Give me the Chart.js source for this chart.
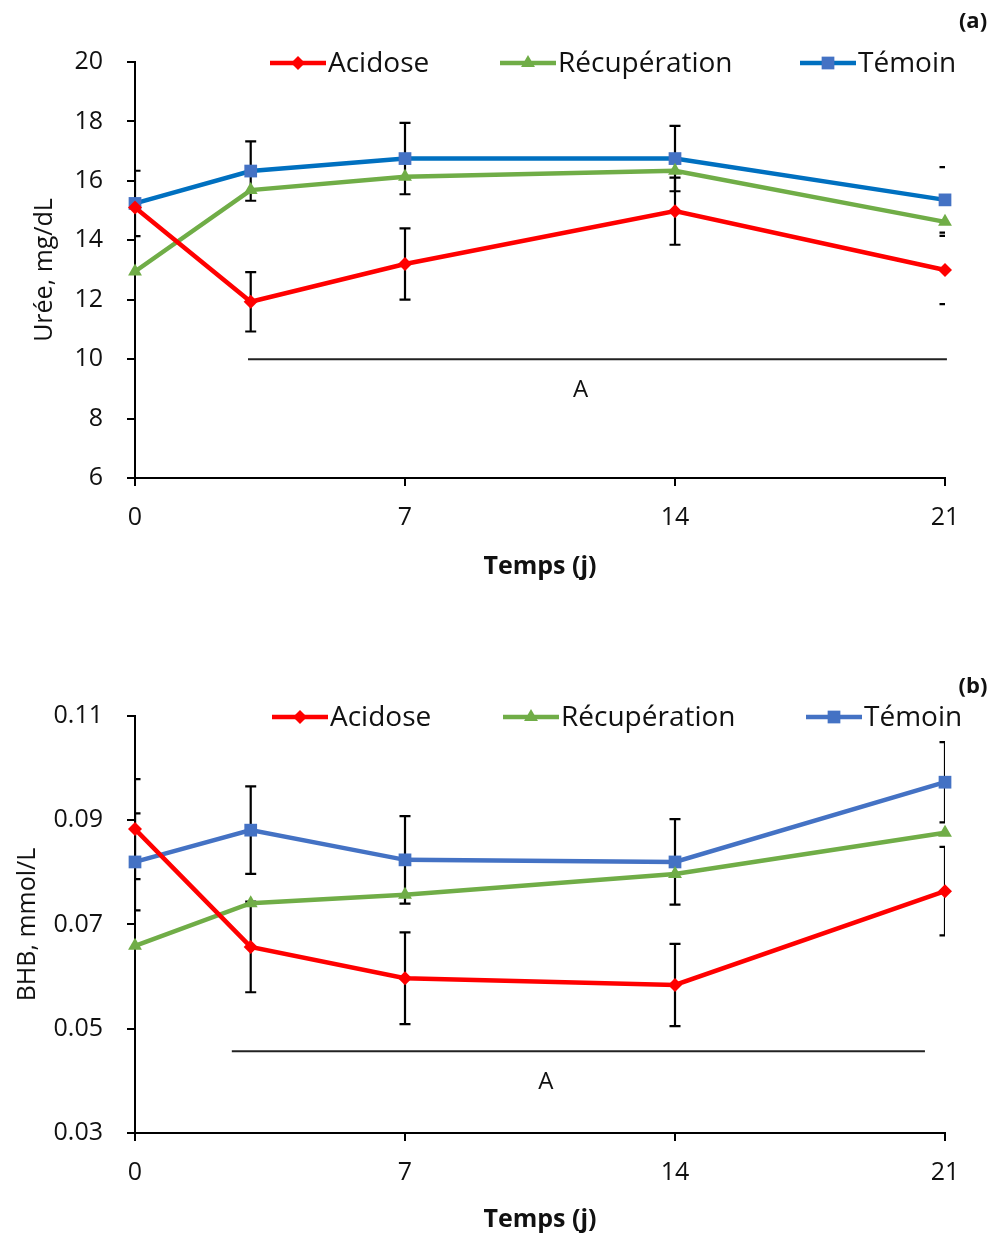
<!DOCTYPE html>
<html>
<head>
<meta charset="utf-8">
<script src="https://cdn.jsdelivr.net/npm/chart.js@4.4.1/dist/chart.umd.min.js"></script>
<style>
  body { margin: 0; background: #fff; width: 993px; height: 1237px; overflow: hidden; }
  .box { position: absolute; left: 0; width: 993px; }
  #boxA { top: 0; height: 610px; }
  #boxB { top: 620px; height: 617px; }
</style>
</head>
<body>
<div class="box" id="boxA"><canvas id="chartA"></canvas></div>
<div class="box" id="boxB"><canvas id="chartB"></canvas></div>
<script>
// jours de prélèvement
const days = [0, 3, 7, 14, 21];
const xTickValues = [0, 7, 14, 21];
const seriesNames = ['Acidose', 'Récupération', 'Témoin'];

// (a) Urée, mg/dL
const ureeAcidose = [15.1, 11.93, 13.2, 14.98, 13.0];
const ureeRecup   = [12.95, 15.69, 16.14, 16.34, 14.62];
const ureeTemoin  = [15.24, 16.33, 16.75, 16.75, 15.36];
const ureeErrAcidose = [null, 1.0, 1.2, 1.13, 1.15];
const ureeErrTemoin  = [1.1, 1.0, 1.2, 1.1, 1.1];
const ureeStem = [true, true, true, true, false];
const ureeTicks = [6, 8, 10, 12, 14, 16, 18, 20];
const ureeSig = [2.93, 21.05, 10];      // de, à, niveau
const ureeSigLabel = ['A', 11.55];      // texte, position x

// (b) BHB, mmol/L
const bhbAcidose = [0.0883, 0.0657, 0.0597, 0.0584, 0.0764];
const bhbRecup   = [0.0659, 0.0741, 0.0757, 0.0797, 0.0876];
const bhbTemoin  = [0.0820, 0.0881, 0.0824, 0.0820, 0.0973];
const bhbErrAcidose = [0.0096, 0.0087, 0.0088, 0.0079, 0.0085];
const bhbErrTemoin  = [0.0093, 0.0084, 0.0084, 0.0082, 0.0077];
const bhbStem = [true, true, true, true, true];
const bhbTicks = [0.03, 0.05, 0.07, 0.09, 0.11];
const bhbSig = [2.51, 20.48, 0.0457];
const bhbSigLabel = ['A', 10.65];

const FONT = "'Open Sans', sans-serif";
const INK = '#111';

const pts = vals => days.map((d, i) => ({ x: d, y: vals[i] }));

function series(name, vals, color, marker, markerColor, radius, errs, stems) {
  return {
    label: name,
    data: pts(vals),
    borderColor: color,
    backgroundColor: markerColor,
    pointBackgroundColor: markerColor,
    pointBorderColor: markerColor,
    pointStyle: marker,
    pointRadius: radius,
    pointBorderWidth: 0,
    borderWidth: 4.5,
    tension: 0,
    clip: false,
    errors: errs,
    stems: stems,
  };
}

// barres d'erreur, coupées à la zone du graphe comme dans Excel
const errorBars = {
  id: 'errorBars',
  beforeDatasetsDraw(chart) {
    const { ctx, chartArea: a, scales: { x, y } } = chart;
    ctx.save();
    ctx.beginPath();
    ctx.rect(a.left, a.top, a.right - a.left, a.bottom - a.top);
    ctx.clip();
    ctx.strokeStyle = '#000';
    ctx.lineWidth = 2.2;
    chart.data.datasets.forEach(ds => {
      (ds.errors || []).forEach((e, i) => {
        if (e == null) return;
        const px = x.getPixelForValue(ds.data[i].x);
        const top = y.getPixelForValue(ds.data[i].y + e);
        const bot = y.getPixelForValue(ds.data[i].y - e);
        ctx.beginPath();
        if (!ds.stems || ds.stems[i]) { ctx.moveTo(px, top); ctx.lineTo(px, bot); }
        ctx.moveTo(px - 5.5, top); ctx.lineTo(px + 5.5, top);
        ctx.moveTo(px - 5.5, bot); ctx.lineTo(px + 5.5, bot);
        ctx.stroke();
      });
    });
    ctx.restore();
  },
};

// trait de significativité + lettre
const sigLine = {
  id: 'sigLine',
  afterDatasetsDraw(chart, args, opts) {
    const { ctx, scales: { x, y } } = chart;
    const [from, to, level] = opts.line;
    const py = y.getPixelForValue(level);
    ctx.save();
    ctx.strokeStyle = '#222';
    ctx.lineWidth = 2;
    ctx.beginPath();
    ctx.moveTo(x.getPixelForValue(from), py);
    ctx.lineTo(x.getPixelForValue(to), py);
    ctx.stroke();
    ctx.fillStyle = INK;
    ctx.font = `24px ${FONT}`;
    ctx.textAlign = 'center';
    ctx.textBaseline = 'middle';
    ctx.fillText(opts.label[0], x.getPixelForValue(opts.label[1]), py + 31);
    ctx.restore();
  },
};

// légende façon Excel (trait + marqueur) et lettre du panneau
const excelLegend = {
  id: 'excelLegend',
  afterDraw(chart, args, opts) {
    const { ctx } = chart;
    ctx.save();
    chart.data.datasets.forEach((ds, i) => {
      const x0 = opts.xs[i], yy = opts.y;
      ctx.strokeStyle = ds.borderColor;
      ctx.lineWidth = 4.5;
      ctx.beginPath();
      ctx.moveTo(x0, yy); ctx.lineTo(x0 + 56, yy);
      ctx.stroke();
      ctx.fillStyle = ds.pointBackgroundColor;
      Chart.helpers.drawPoint(ctx, { pointStyle: ds.pointStyle, radius: ds.pointRadius, borderWidth: 0 }, x0 + 28, yy);
      ctx.fillStyle = INK;
      ctx.font = `28px ${FONT}`;
      ctx.textAlign = 'left';
      ctx.textBaseline = 'middle';
      ctx.fillText(ds.label, x0 + 58, yy + 1);
    });
    ctx.font = `bold 22px ${FONT}`;
    ctx.textAlign = 'center';
    ctx.fillText(opts.tag, 973, opts.tagY);
    ctx.restore();
  },
};

function makeChart(id, datasets, o) {
  return new Chart(document.getElementById(id), {
    type: 'line',
    data: { datasets },
    plugins: [errorBars, sigLine, excelLegend],
    options: {
      responsive: true,
      maintainAspectRatio: false,
      animation: false,
      layout: { autoPadding: false, padding: { left: 0, top: o.top, right: 48, bottom: 0 } },
      plugins: {
        legend: { display: false },
        tooltip: { enabled: false },
        sigLine: { line: o.sig, label: o.sigLabel },
        excelLegend: { xs: o.legendXs, y: o.legendY, tag: o.tag, tagY: o.tagY },
      },
      scales: {
        x: {
          type: 'linear', min: 0, max: 21,
          afterBuildTicks: s => { s.ticks = xTickValues.map(v => ({ value: v })); },
          afterFit: s => { s.height = o.xHeight; },
          ticks: { color: INK, font: { family: FONT, size: 25 }, padding: 17 },
          grid: { display: true, drawOnChartArea: false, drawTicks: true, tickLength: 8, color: '#000', lineWidth: 2 },
          border: { display: true, color: '#000', width: 2 },
          title: { display: true, text: 'Temps (j)', color: INK, font: { family: FONT, size: 25, weight: 'bold' }, padding: { top: 0, bottom: o.xTitlePad } },
        },
        y: {
          min: o.yTicks[0], max: o.yTicks[o.yTicks.length - 1],
          afterBuildTicks: s => { s.ticks = o.yTicks.map(v => ({ value: v })); },
          afterFit: s => { s.width = 135; },
          ticks: { color: INK, font: { family: FONT, size: 25 }, padding: 24, callback: o.fmt },
          grid: { display: true, drawOnChartArea: false, drawTicks: true, tickLength: 8, color: '#000', lineWidth: 2 },
          border: { display: true, color: '#000', width: 2 },
          title: { display: true, text: o.yTitle, color: INK, font: { family: FONT, size: 25 }, padding: { top: o.yTitlePad, bottom: 0 } },
        },
      },
    },
  });
}

makeChart('chartA', [
  series(seriesNames[0], ureeAcidose, '#FF0000', 'rectRot', '#FF0000', 7, ureeErrAcidose, ureeStem),
  series(seriesNames[1], ureeRecup, '#70AD47', 'triangle', '#70AD47', 8, null, null),
  series(seriesNames[2], ureeTemoin, '#0070C0', 'rect', '#4472C4', 9, ureeErrTemoin, ureeStem),
], {
  top: 62, xHeight: 132, xTitlePad: 28, yTicks: ureeTicks, fmt: v => String(v),
  yTitle: 'Urée, mg/dL', yTitlePad: 30, sig: ureeSig, sigLabel: ureeSigLabel,
  legendXs: [270, 500, 800], legendY: 63, tag: '(a)', tagY: 22,
});

makeChart('chartB', [
  series(seriesNames[0], bhbAcidose, '#FF0000', 'rectRot', '#FF0000', 7, bhbErrAcidose, bhbStem),
  series(seriesNames[1], bhbRecup, '#70AD47', 'triangle', '#70AD47', 8, null, null),
  series(seriesNames[2], bhbTemoin, '#4472C4', 'rect', '#4472C4', 9, bhbErrTemoin, bhbStem),
], {
  top: 96, xHeight: 104, xTitlePad: 2, yTicks: bhbTicks, fmt: v => v.toFixed(2),
  yTitle: 'BHB, mmol/L', yTitlePad: 13, sig: bhbSig, sigLabel: bhbSigLabel,
  legendXs: [272, 503, 806], legendY: 97, tag: '(b)', tagY: 67,
});
</script>
</body>
</html>
